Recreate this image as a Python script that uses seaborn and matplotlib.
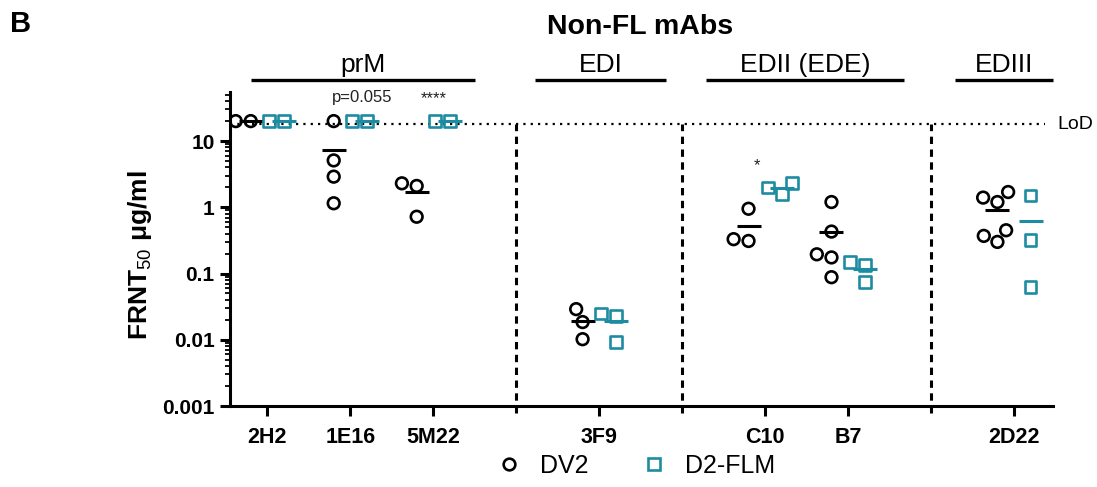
import numpy as np
import pandas as pd
import matplotlib
matplotlib.use("Agg")
import matplotlib.pyplot as plt
import seaborn as sns
from matplotlib.lines import Line2D
from matplotlib.ticker import FixedLocator, FixedFormatter, NullFormatter

# ---------------- data ----------------
mabs = ["2H2", "1E16", "5M22", "3F9", "C10", "B7", "2D22"]
viruses = ["DV2", "D2-FLM"]

dv2_2H2 = [20, 20]
dv2_1E16 = [20, 5.1, 2.9, 1.15]
dv2_5M22 = [2.3, 2.1, 0.72]
dv2_3F9 = [0.029, 0.0185, 0.0102]
dv2_C10 = [0.95, 0.31, 0.33]
dv2_B7 = [1.2, 0.43, 0.195, 0.175, 0.088]
dv2_2D22 = [1.7, 1.4, 1.2, 0.45, 0.30, 0.37]

flm_2H2 = [20, 20]
flm_1E16 = [20, 20]
flm_5M22 = [20, 20]
flm_3F9 = [0.025, 0.023, 0.0092]
flm_C10 = [2.3, 2.0, 1.6]
flm_B7 = [0.148, 0.134, 0.074]
flm_2D22 = [1.5, 0.32, 0.062]

dv2_values = [dv2_2H2, dv2_1E16, dv2_5M22, dv2_3F9, dv2_C10, dv2_B7, dv2_2D22]
flm_values = [flm_2H2, flm_1E16, flm_5M22, flm_3F9, flm_C10, flm_B7, flm_2D22]

lod = 18
groups = ["prM", "EDI", "EDII (EDE)", "EDIII"]
sig_mabs = ["1E16", "5M22", "C10"]
sig_texts = ["p=0.055", "****", "*"]

# ---------------- long table ----------------
rows = []
for m, dv, fl in zip(mabs, dv2_values, flm_values):
    for v in dv:
        rows.append((m, "DV2", v))
    for v in fl:
        rows.append((m, "D2-FLM", v))
df = pd.DataFrame(rows, columns=["mAb", "virus", "FRNT50"])
means = df.groupby(["mAb", "virus"], as_index=False)["FRNT50"].mean()

# category order with empty separator slots
order = ["2H2", "1E16", "5M22", "_s1", "3F9", "_s2", "C10", "B7", "_s3", "2D22"]
seps = [order.index(s) for s in order if s.startswith("_s")]
pos = {m: order.index(m) for m in mabs}

teal = "#1d8ca2"
palette = {"DV2": "black", "D2-FLM": teal}
markers = {"DV2": "o", "D2-FLM": "s"}

# ---------------- style ----------------
sns.set_style("ticks")
plt.rcParams["font.family"] = ["Liberation Sans", "DejaVu Sans"]
plt.rcParams["mathtext.fontset"] = "custom"
plt.rcParams["mathtext.rm"] = "Liberation Sans"
plt.rcParams["mathtext.bf"] = "Liberation Sans:bold"
for k in ["text.color", "axes.labelcolor", "xtick.color", "ytick.color", "axes.edgecolor"]:
    plt.rcParams[k] = "black"

fig = plt.figure(figsize=(10.97, 4.87), dpi=100)
ax = fig.add_axes([230 / 1097, 1 - 406 / 487, (1053 - 230) / 1097, (406 - 92) / 487])
ax.set_yscale("log")

for v in viruses:
    n0 = len(ax.collections)
    sns.swarmplot(data=df[df["virus"] == v], x="mAb", y="FRNT50", hue="virus",
                  order=order, hue_order=viruses, palette=palette, dodge=True,
                  size=8.4, marker=markers[v], legend=False, ax=ax)
    for c in ax.collections[n0:]:
        c.set_facecolor("none")
        c.set_edgecolor(palette[v])
        c.set_linewidth(1.9)
        c.set_zorder(3)

sns.pointplot(data=means, x="mAb", y="FRNT50", hue="virus", order=order,
              hue_order=viruses, palette=palette, dodge=0.4, markers="_",
              linestyle="none", errorbar=None, markersize=17,
              markeredgewidth=2.2, legend=False, ax=ax)

# axes limits / ticks
ax.set_xlim(-0.45, 9.47)
ax.set_ylim(0.001, 55)
ax.set_xticks([pos[m] for m in mabs])
ax.set_xticklabels(mabs, fontsize=15.5, fontweight="bold")
ax.set_xlabel("")
ax.yaxis.set_major_locator(FixedLocator([0.001, 0.01, 0.1, 1, 10]))
ax.yaxis.set_major_formatter(FixedFormatter(["0.001", "0.01", "0.1", "1", "10"]))
minor = [m * 10.0 ** e for e in range(-3, 2) for m in range(2, 10) if m * 10.0 ** e <= 55]
ax.yaxis.set_minor_locator(FixedLocator(minor))
ax.yaxis.set_minor_formatter(NullFormatter())
for lab in ax.get_yticklabels():
    lab.set_fontweight("bold")
    lab.set_fontsize(15)
ax.tick_params(axis="both", which="major", length=7, width=2.2, pad=4, colors="black")
ax.tick_params(axis="y", which="minor", length=3.5, width=1.3, colors="black")
ax.tick_params(axis="x", pad=8)
sns.despine(ax=ax)
for s in ["left", "bottom"]:
    ax.spines[s].set_linewidth(2.2)
    ax.spines[s].set_color("black")

ax.set_ylabel("FRNT$_{50}$ μg/ml", fontsize=19, fontweight="bold", color="black")
ax.yaxis.set_label_coords(-0.092, 0.48)

# LoD line and separators
ax.plot([-0.45, 9.37], [lod, lod], color="black", lw=1.6,
        ls=(0, (1, 2.3)), zorder=1)
ax.text(9.52, lod, "LoD", fontsize=14, va="center", ha="left", clip_on=False)
for s in seps:
    ax.plot([s, s], [0.00078, lod], color="black", lw=2.2,
            ls=(0, (2.4, 1.8)), clip_on=False, zorder=1)

# significance labels
sig_y = {"1E16": 46, "5M22": 44, "C10": 4.2}
sig_dx = {"1E16": 0.14, "5M22": 0.0, "C10": -0.1}
for m, t in zip(sig_mabs, sig_texts):
    ax.text(pos[m] + sig_dx[m], sig_y[m], t, ha="center", va="center",
            fontsize=12, color="#222222", clip_on=False)

# epitope group headers (bracket extents are layout)
spans = [(-0.2, 2.5), (3.23, 4.81), (5.29, 7.67), (8.29, 9.47)]
trans = ax.get_xaxis_transform()
for g, (x0, x1) in zip(groups, spans):
    ax.plot([x0, x1], [1.038, 1.038], color="black", lw=2.4,
            transform=trans, clip_on=False, solid_capstyle="butt")
    ax.text((x0 + x1) / 2, 1.085, g, transform=trans, ha="center",
            va="center", fontsize=19)

fig.text(640 / 1097, 1 - 27 / 487, "Non-FL mAbs", ha="center", va="center",
         fontsize=20.5, fontweight="bold")
fig.text(10 / 1097, 1 - 24 / 487, "B", ha="left", va="center",
         fontsize=21, fontweight="bold")

# legend
handles = [Line2D([], [], marker=markers[v], ls="none", markersize=8.4,
                  markerfacecolor="none", markeredgecolor=palette[v],
                  markeredgewidth=1.9) for v in viruses]
fig.legend(handles, viruses, loc="center", bbox_to_anchor=(636 / 1097, 1 - 466 / 487),
           ncol=2, frameon=False, fontsize=18, handlelength=1.0,
           handletextpad=0.75, columnspacing=2.1)

fig.savefig("out.png", dpi=100)
